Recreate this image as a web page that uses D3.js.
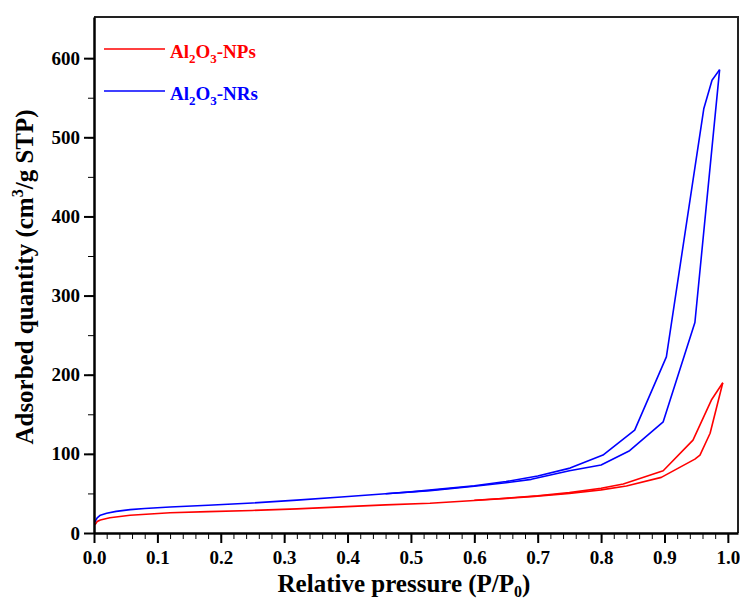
<!DOCTYPE html>
<html lang="en">
    <head>
        <meta charset="utf-8">
        <title>Al2O3 N2 adsorption isotherms</title>
        <script type="text/javascript" src="https://cdn.jsdelivr.net/npm/d3@7"></script>
        <style>
            body { margin: 0; background: #fff; }
            text { font-family: "Liberation Serif", "Times New Roman", serif; font-weight: bold; }
        </style>
    </head>
    <body>
        <script type="text/javascript">
            // NRs, adsorption branch (P/P0, cm3/g)
            var nrAdsP = [0.0015, 0.005, 0.01, 0.02, 0.035, 0.057, 0.08, 0.12, 0.18, 0.25, 0.32, 0.39, 0.46, 0.53, 0.6, 0.65, 0.69, 0.75, 0.8, 0.845, 0.898, 0.948, 0.987];
            var nrAdsV = [14, 19, 22.5, 25, 27.3, 29.5, 31, 32.8, 35, 38, 41.5, 45.5, 49.5, 53.5, 59, 63.5, 67.8, 78.7, 86, 104, 140.5, 266, 585.5];
            // NRs, desorption branch
            var nrDesP = [0.987, 0.975, 0.962, 0.903, 0.853, 0.803, 0.751, 0.7, 0.65, 0.6, 0.55, 0.5, 0.46];
            var nrDesV = [585.5, 572, 536, 222.6, 130, 98.5, 82, 72, 65, 59.8, 55.8, 52, 49.5];
            // NPs, adsorption branch
            var npAdsP = [0.0015, 0.005, 0.01, 0.025, 0.057, 0.12, 0.18, 0.25, 0.32, 0.39, 0.46, 0.53, 0.6, 0.69, 0.75, 0.8, 0.84, 0.895, 0.948, 0.956, 0.972, 0.992];
            var npAdsV = [10.5, 14.5, 16.5, 19.3, 22.5, 25.6, 27, 28.5, 30.5, 33, 35.5, 37.5, 41, 46, 50, 54.5, 59.3, 70.3, 93.4, 98.5, 126, 189.8];
            // NPs, desorption branch
            var npDesP = [0.992, 0.974, 0.945, 0.898, 0.835, 0.8, 0.75, 0.7, 0.65, 0.6];
            var npDesV = [189.8, 168, 117.4, 78.7, 62, 56.5, 51, 47, 44, 41.3];

            var xTicks = [0, 0.1, 0.2, 0.3, 0.4, 0.5, 0.6, 0.7, 0.8, 0.9, 1.0];
            var yTicks = [0, 100, 200, 300, 400, 500, 600];

            var w = 740;
            var h = 600;
            var svg = d3.select("body")
                        .append("svg")
                        .attr("width", w)
                        .attr("height", h);

            // 比例尺
            var xScale = d3.scaleLinear()
                           .domain([0, 1.016])
                           .range([94, 738]);
            var yScale = d3.scaleLinear()
                           .domain([0, 652])
                           .range([533, 17]);

            // 外框 (top / right)
            svg.append("path")
               .attr("d", "M" + xScale(0) + "," + yScale(652) + "H" + xScale(1.016) + "V" + yScale(0))
               .attr("fill", "none")
               .attr("stroke", "#222")
               .attr("stroke-width", 2);

            // 曲线
            var line = d3.line()
                         .x(function(d){return xScale(d[0]);})
                         .y(function(d){return yScale(d[1]);});
            function pairs(p, v){ return p.map(function(d, i){return [d, v[i]];}); }
            var series = [
                {p: npAdsP, v: npAdsV, c: "#ff0000"},
                {p: npDesP, v: npDesV, c: "#ff0000"},
                {p: nrAdsP, v: nrAdsV, c: "#0000ff"},
                {p: nrDesP, v: nrDesV, c: "#0000ff"}
            ];
            svg.selectAll("path.iso")
               .data(series)
               .enter()
               .append("path")
               .attr("class", "iso")
               .attr("d", function(d){return line(pairs(d.p, d.v));})
               .attr("fill", "none")
               .attr("stroke", function(d){return d.c;})
               .attr("stroke-width", 1.6)
               .attr("stroke-linejoin", "round");

            // x轴
            var xMinor = d3.range(0, 51).map(function(i){return i * 0.02;});
            svg.append("g")
               .attr("transform", "translate(0," + yScale(0) + ")")
               .call(d3.axisBottom(xScale).tickValues(xMinor).tickSize(6).tickFormat(""))
               .call(function(g){ g.select(".domain").remove(); });
            var xAxis = svg.append("g")
               .attr("transform", "translate(0," + yScale(0) + ")")
               .call(d3.axisBottom(xScale).tickValues(xTicks).tickSize(10).tickSizeOuter(0).tickPadding(8)
                       .tickFormat(d3.format(".1f")));
            xAxis.select(".domain").attr("stroke-width", 2.5);
            xAxis.selectAll("line").attr("stroke-width", 2);
            xAxis.selectAll("text").attr("font-size", "19px").attr("fill", "#000");

            // y轴
            var yMinor = d3.range(0, 13).map(function(i){return i * 50;});
            svg.append("g")
               .attr("transform", "translate(" + xScale(0) + ",0)")
               .call(d3.axisLeft(yScale).tickValues(yMinor).tickSize(6).tickFormat(""))
               .call(function(g){ g.select(".domain").remove(); });
            var yAxis = svg.append("g")
               .attr("transform", "translate(" + xScale(0) + ",0)")
               .call(d3.axisLeft(yScale).tickValues(yTicks).tickSize(10).tickSizeOuter(0).tickPadding(4));
            yAxis.select(".domain").attr("stroke-width", 2.5);
            yAxis.selectAll("line").attr("stroke-width", 2);
            yAxis.selectAll("text").attr("font-size", "19px").attr("fill", "#000");
            svg.selectAll("g line").attr("stroke", "#000");

            // 轴标题
            var xt = svg.append("text")
               .attr("x", 404)
               .attr("y", 592)
               .attr("text-anchor", "middle")
               .attr("font-size", "25px");
            xt.append("tspan").text("Relative pressure (P/P");
            xt.append("tspan").attr("font-size", "16px").attr("dy", 5).text("0");
            xt.append("tspan").attr("dy", -5).text(")");

            var yt = svg.append("text")
               .attr("transform", "translate(33,277) rotate(-90)")
               .attr("text-anchor", "middle")
               .attr("font-size", "25px");
            yt.append("tspan").text("Adsorbed quantity (cm");
            yt.append("tspan").attr("font-size", "16px").attr("dy", -10).text("3");
            yt.append("tspan").attr("dy", 10).text("/g STP)");

            // 图例
            var legend = [
                {name: "NPs", c: "#ff0000", y: 49},
                {name: "NRs", c: "#0000ff", y: 91}
            ];
            legend.forEach(function(d){
                svg.append("line")
                   .attr("x1", 104).attr("x2", 165)
                   .attr("y1", d.y).attr("y2", d.y)
                   .attr("stroke", d.c)
                   .attr("stroke-width", 1.6);
                var t = svg.append("text")
                   .attr("x", 170)
                   .attr("y", d.y + 9)
                   .attr("font-size", "19px")
                   .attr("fill", d.c);
                t.append("tspan").text("Al");
                t.append("tspan").attr("font-size", "13px").attr("dy", 5).text("2");
                t.append("tspan").attr("dy", -5).text("O");
                t.append("tspan").attr("font-size", "13px").attr("dy", 5).text("3");
                t.append("tspan").attr("dy", -5).text("-" + d.name);
            });
        </script>
    </body>
</html>
